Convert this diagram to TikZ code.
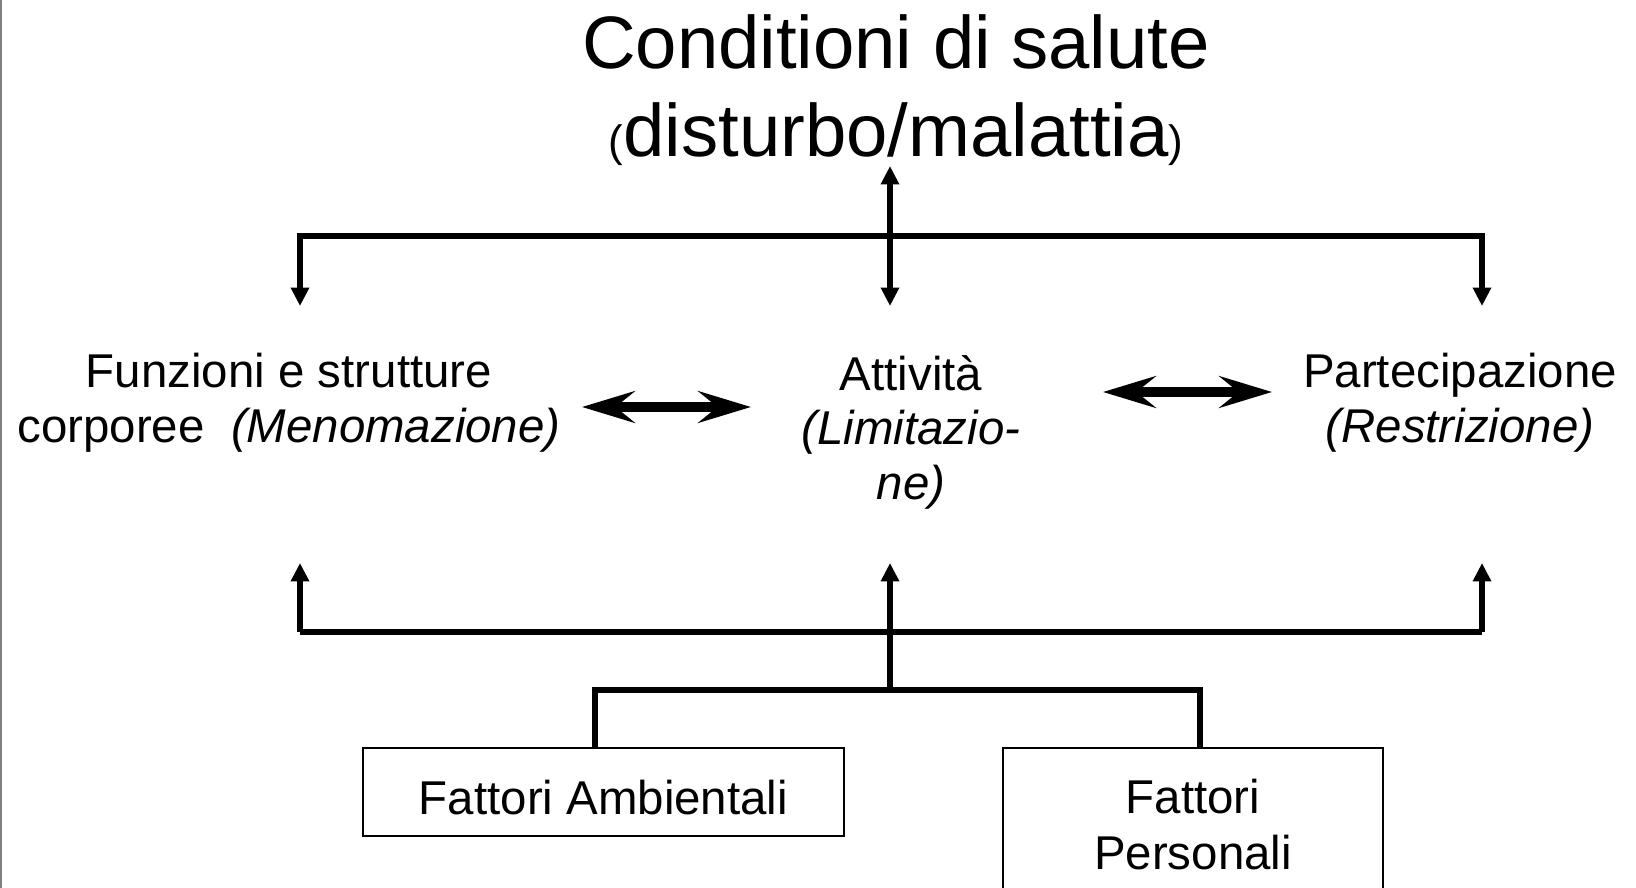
\documentclass[tikz,border=0pt]{standalone}
\usepackage{fontspec}
\setmainfont{Liberation Sans}
\usetikzlibrary{arrows.meta}
\tikzset{
  lbl/.style={font=\fontsize{27}{31}\selectfont, align=center, inner sep=0pt},
  box/.style={draw, line width=1.1pt, font=\fontsize{27}{32}\selectfont, align=center, inner sep=0pt},
  conn/.style={line width=2.9pt},
  arr/.style={-{Triangle[length=10.5pt,width=10pt]}},
  dbl/.style={line width=6.2pt, {Stealth[length=30pt,width=18pt,inset=11pt]}-{Stealth[length=30pt,width=18pt,inset=11pt]}}
}
\begin{document}
\begin{tikzpicture}[x=0.02cm,y=-0.02cm]
  \useasboundingbox (0,0) rectangle (1636,888);
  \clip (0,0) rectangle (1636,888);
  \draw[gray, line width=1.2pt] (1,0) -- (1,888);
  % title
  \node[anchor=base, inner sep=0pt] (title) at (896,69) {\fontsize{42.3}{50}\selectfont Conditioni di salute};
  \node[anchor=base, inner sep=0pt] (sub) at (896,156.5) {\fontsize{25}{30}\selectfont(\fontsize{42.3}{50}\selectfont disturbo/malattia\fontsize{25}{30}\selectfont)};
  % components
  \node[lbl, anchor=base] (funz) at (289,442) {Funzioni e strutture\\corporee\ \ \textit{(Menomazione)}};
  \node[lbl, anchor=base] (att) at (911,499) {Attività\\\textit{(Limitazio-}\\\textit{ne)}};
  \node[lbl, anchor=base] (part) at (1460,442) {Partecipazione\\\textit{(Restrizione)}};
  % contextual factors
  \node[box, minimum width=9.62cm, minimum height=1.76cm, text height=26pt, text depth=0pt] (amb) at (603.5,792) {Fattori Ambientali};
  \node[box, minimum width=7.6cm, minimum height=3.06cm, anchor=north] (pers) at (1193,747) {Fattori\\Personali};
  % top connectors
  \coordinate (up) at (890,166);
  \coordinate (hub) at (890,236);
  \coordinate (f-top) at (300,306);
  \coordinate (a-top) at (890,306);
  \coordinate (p-top) at (1482,306);
  \draw[conn, arr] (hub) -| (f-top);
  \draw[conn, arr] (hub) -| (p-top);
  \draw[conn, {Triangle[length=10.5pt,width=10pt]}-{Triangle[length=10.5pt,width=10pt]}] (up) -- (a-top);
  % double arrows
  \coordinate (fa-l) at (582,407);
  \coordinate (fa-r) at (751,407);
  \coordinate (ap-l) at (1103,392);
  \coordinate (ap-r) at (1272,392);
  \draw[dbl] (fa-l) -- (fa-r);
  \draw[dbl] (ap-l) -- (ap-r);
  % bottom connectors
  \coordinate (f-bot) at (300,563);
  \coordinate (a-bot) at (890,563);
  \coordinate (p-bot) at (1482,563);
  \coordinate (bar-l) at (300,632);
  \coordinate (bar-r) at (1482,632);
  \coordinate (base) at (890,690);
  \coordinate (ja) at (595,690);
  \coordinate (jp) at (1200,690);
  \draw[line width=3.5pt] (bar-l) -- (bar-r);
  \draw[conn, arr] (bar-l) -- (f-bot);
  \draw[conn, arr] (bar-r) -- (p-bot);
  \draw[conn, arr] (base) -- (a-bot);
  \draw[line width=3.4pt] (amb.north -| ja) -- (ja) -- (jp) -- (pers.north -| jp);
\end{tikzpicture}
\end{document}
